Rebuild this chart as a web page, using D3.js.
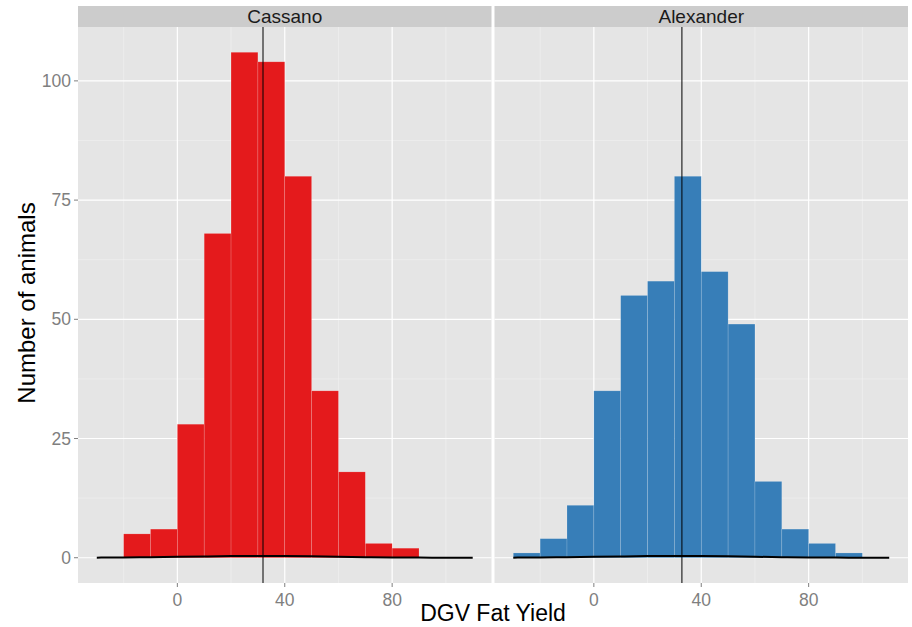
<!DOCTYPE html>
<html>
<head>
<meta charset="utf-8">
<script src="https://cdn.jsdelivr.net/npm/d3@7"></script>
<style>
  body { margin: 0; background: #fff; }
  text { font-family: "Liberation Sans", Arial, sans-serif; }
</style>
</head>
<body>
<svg id="chart" width="912" height="627"></svg>
<script>
// panels
var panels = ["Cassano", "Alexander"];
var colors = ["#E41A1C", "#377EB8"];

// histogram bins (left edge, binwidth 10)
var cassanoBins = [-20, -10, 0, 10, 20, 30, 40, 50, 60, 70, 80];
var cassanoCounts = [5, 6, 28, 68, 106, 104, 80, 35, 18, 3, 2];
var alexanderBins = [-30, -20, -10, 0, 10, 20, 30, 40, 50, 60, 70, 80, 90];
var alexanderCounts = [1, 4, 11, 35, 55, 58, 80, 60, 49, 16, 6, 3, 1];

// mean lines
var means = [31.9, 32.8];

// density curve (very flat near zero)
var densityX = [-30, -20, -10, 0, 10, 20, 30, 40, 50, 60, 70, 80, 90, 100, 110];
var densityY = [0.02, 0.05, 0.1, 0.18, 0.27, 0.35, 0.4, 0.38, 0.3, 0.2, 0.12, 0.06, 0.03, 0.01, 0.0];

var xTicks = [0, 40, 80];
var xMinor = [-20, 20, 60, 100];
var yTicks = [0, 25, 50, 75, 100];
var yMinor = [12.5, 37.5, 62.5, 87.5];

var binWidth = 10;
var stripTop = 6, stripH = 21;
var panelTop = 27, panelBottom = 583;
var panelLefts = [78, 494.5];
var panelW = 413.5;

var svg = d3.select("#chart");

var y = d3.scaleLinear()
    .domain([-5.3, 111.3])
    .range([panelBottom, panelTop]);

var data = [
  {bins: cassanoBins, counts: cassanoCounts},
  {bins: alexanderBins, counts: alexanderCounts}
];

panels.forEach(function(name, p) {
  var left = panelLefts[p];
  var x = d3.scaleLinear()
      .domain([-37, 117])
      .range([left, left + panelW]);

  var g = svg.append("g");

  // strip
  g.append("rect")
      .attr("x", left).attr("y", stripTop)
      .attr("width", panelW).attr("height", stripH)
      .attr("fill", "#CCCCCC");
  g.append("text")
      .attr("x", left + panelW / 2).attr("y", 23)
      .attr("text-anchor", "middle")
      .attr("font-size", 19)
      .attr("fill", "#1a1a1a")
      .text(name);

  // panel background
  g.append("rect")
      .attr("x", left).attr("y", panelTop)
      .attr("width", panelW).attr("height", panelBottom - panelTop)
      .attr("fill", "#E5E5E5");

  // minor grid
  g.selectAll(".xminor").data(xMinor).enter().append("line")
      .attr("x1", function(d) { return x(d); }).attr("x2", function(d) { return x(d); })
      .attr("y1", panelTop).attr("y2", panelBottom)
      .attr("stroke", "#F2F2F2").attr("stroke-width", 0.6);
  g.selectAll(".yminor").data(yMinor).enter().append("line")
      .attr("x1", left).attr("x2", left + panelW)
      .attr("y1", function(d) { return y(d); }).attr("y2", function(d) { return y(d); })
      .attr("stroke", "#F2F2F2").attr("stroke-width", 0.6);

  // major grid
  g.selectAll(".xmajor").data(xTicks).enter().append("line")
      .attr("x1", function(d) { return x(d); }).attr("x2", function(d) { return x(d); })
      .attr("y1", panelTop).attr("y2", panelBottom)
      .attr("stroke", "#fff").attr("stroke-width", 1.2);
  g.selectAll(".ymajor").data(yTicks).enter().append("line")
      .attr("x1", left).attr("x2", left + panelW)
      .attr("y1", function(d) { return y(d); }).attr("y2", function(d) { return y(d); })
      .attr("stroke", "#fff").attr("stroke-width", 1.2);

  // bars
  var d = data[p];
  g.selectAll(".bar").data(d.bins).enter().append("rect")
      .attr("x", function(b) { return x(b); })
      .attr("width", function(b) { return x(b + binWidth) - x(b); })
      .attr("y", function(b, i) { return y(d.counts[i]); })
      .attr("height", function(b, i) { return y(0) - y(d.counts[i]); })
      .attr("fill", colors[p])
      .attr("stroke", "rgba(255,255,255,0.25)")
      .attr("stroke-width", 0.6);

  // mean line
  g.append("line")
      .attr("x1", x(means[p])).attr("x2", x(means[p]))
      .attr("y1", panelTop).attr("y2", panelBottom)
      .attr("stroke", "#000").attr("stroke-width", 1);

  // density curve
  var line = d3.line()
      .x(function(v, i) { return x(densityX[i]); })
      .y(function(v) { return y(v); })
      .curve(d3.curveBasis);
  g.append("path")
      .datum(densityY)
      .attr("d", line)
      .attr("fill", "none")
      .attr("stroke", "#000")
      .attr("stroke-width", 2);

  // x axis ticks and labels
  g.selectAll(".xtick").data(xTicks).enter().append("line")
      .attr("x1", function(v) { return x(v); }).attr("x2", function(v) { return x(v); })
      .attr("y1", panelBottom).attr("y2", panelBottom + 4)
      .attr("stroke", "#7F7F7F");
  g.selectAll(".xlab").data(xTicks).enter().append("text")
      .attr("x", function(v) { return x(v); })
      .attr("y", panelBottom + 23)
      .attr("text-anchor", "middle")
      .attr("font-size", 17.5)
      .attr("fill", "#7F7F7F")
      .text(function(v) { return v; });
});

// y axis ticks and labels
svg.selectAll(".ytick").data(yTicks).enter().append("line")
    .attr("x1", panelLefts[0] - 4).attr("x2", panelLefts[0])
    .attr("y1", function(d) { return y(d); }).attr("y2", function(d) { return y(d); })
    .attr("stroke", "#7F7F7F");
svg.selectAll(".ylab").data(yTicks).enter().append("text")
    .attr("x", panelLefts[0] - 7)
    .attr("y", function(d) { return y(d) + 6; })
    .attr("text-anchor", "end")
    .attr("font-size", 17.5)
    .attr("fill", "#7F7F7F")
    .text(function(d) { return d; });

// axis titles
svg.append("text")
    .attr("x", (panelLefts[0] + panelLefts[1] + panelW) / 2)
    .attr("y", 621)
    .attr("text-anchor", "middle")
    .attr("font-size", 23)
    .attr("fill", "#000")
    .text("DGV Fat Yield");

svg.append("text")
    .attr("transform", "translate(35,303) rotate(-90)")
    .attr("text-anchor", "middle")
    .attr("font-size", 24)
    .attr("fill", "#000")
    .text("Number of animals");
</script>
</body>
</html>
